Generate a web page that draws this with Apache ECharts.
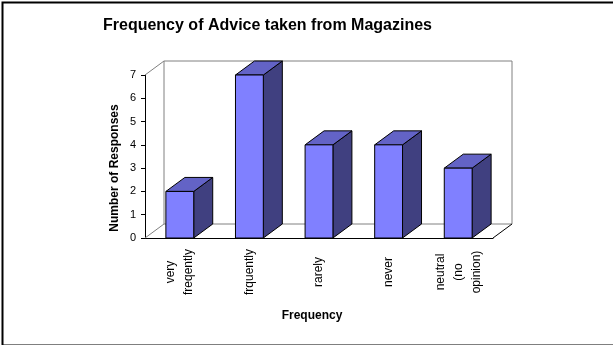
<!DOCTYPE html>
<html>
<head>
<meta charset="utf-8">
<script src="https://cdn.jsdelivr.net/npm/echarts@6/dist/echarts.min.js"></script>
<style>
  html, body { margin: 0; padding: 0; background: #fff; }
  #chart { width: 613px; height: 345px; }
</style>
</head>
<body>
<div id="chart"></div>
<script>
// Survey answers: how often advice from magazines is taken
const categories = ['very\nfreqently', 'frquently', 'rarely', 'never', 'neutral\n(no\nopinion)'];
const responses = [2, 7, 4, 4, 3];
const yMin = 0;
const yMax = 7;
const yStep = 1;

const FONT = 'Liberation Sans, Arial, sans-serif';
// pseudo-3D depth offset of the plot box (pixels)
const DX = 19;
const DY = -14;

const chart = echarts.init(document.getElementById('chart'), null, { renderer: 'canvas' });

// back wall and floor outline of the 3D box
function renderWalls(params, api) {
  const band = api.size([1, 0])[0];
  const x0 = api.coord([0, yMin])[0] - band / 2;
  const x1 = api.coord([categories.length - 1, yMin])[0] + band / 2;
  const yb = api.coord([0, yMin])[1];
  const yt = api.coord([0, yMax])[1];
  const gray = { stroke: '#808080', lineWidth: 1, fill: null };
  return {
    type: 'group',
    children: [
      { type: 'polyline', shape: { points: [[x0 + DX, yb + DY], [x0 + DX, yt + DY], [x1 + DX, yt + DY], [x1 + DX, yb + DY], [x0 + DX, yb + DY]] }, style: gray },
      { type: 'line', shape: { x1: x0, y1: yt, x2: x0 + DX, y2: yt + DY }, style: gray },
      { type: 'line', shape: { x1: x0, y1: yb, x2: x0 + DX, y2: yb + DY }, style: gray },
      { type: 'line', shape: { x1: x1, y1: yb, x2: x1 + DX, y2: yb + DY }, style: { stroke: '#000', lineWidth: 1 } }
    ]
  };
}

// one 3D column: front face, top face, right side
function renderBar(params, api) {
  const i = api.value(0);
  const v = api.value(1);
  const base = api.coord([i, yMin]);
  const top = api.coord([i, v]);
  const bw = api.size([1, 0])[0] * 0.4;
  const xl = base[0] - bw / 2;
  const xr = base[0] + bw / 2;
  const yb = base[1];
  const yt = top[1];
  const edge = { stroke: '#000', lineWidth: 1 };
  return {
    type: 'group',
    children: [
      { type: 'polygon', shape: { points: [[xr, yt], [xr + DX, yt + DY], [xr + DX, yb + DY], [xr, yb]] }, style: Object.assign({ fill: '#404080' }, edge) },
      { type: 'polygon', shape: { points: [[xl, yt], [xl + DX, yt + DY], [xr + DX, yt + DY], [xr, yt]] }, style: Object.assign({ fill: '#6363C6' }, edge) },
      { type: 'rect', shape: { x: xl, y: yt, width: bw, height: yb - yt }, style: Object.assign({ fill: '#8080FF' }, edge) }
    ]
  };
}

const option = {
  backgroundColor: '#fff',
  animation: false,
  title: {
    text: 'Frequency of Advice taken from Magazines',
    left: 103,
    top: 18,
    padding: 0,
    textStyle: { fontFamily: FONT, fontSize: 16, fontWeight: 'bold', color: '#000' }
  },
  grid: { left: 145, top: 75, width: 348, height: 163 },
  xAxis: {
    type: 'category',
    data: categories,
    boundaryGap: true,
    axisLine: { lineStyle: { color: '#000', width: 1 } },
    axisTick: { length: 4, lineStyle: { color: '#000' } },
    axisLabel: {
      interval: 0,
      rotate: 90,
      align: 'center',
      verticalAlign: 'middle',
      margin: 34,
      lineHeight: 18,
      color: '#000',
      fontFamily: FONT,
      fontSize: 12
    },
    splitLine: { show: false }
  },
  yAxis: {
    type: 'value',
    min: yMin,
    max: yMax,
    interval: yStep,
    axisLine: { show: true, lineStyle: { color: '#000', width: 1 } },
    axisTick: { show: true, length: 4, lineStyle: { color: '#000' } },
    axisLabel: { margin: 9, color: '#000', fontFamily: FONT, fontSize: 11 },
    splitLine: { show: false }
  },
  graphic: [
    {
      type: 'rect',
      left: 0, top: 0,
      shape: { x: 0, y: 0, width: 612, height: 343 },
      style: { fill: null, stroke: '#000', lineWidth: 2 },
      silent: true
    },
    {
      type: 'text',
      x: 115, y: 168,
      rotation: Math.PI / 2,
      style: { text: 'Number of Responses', fontFamily: FONT, fontSize: 12, fontWeight: 'bold', fill: '#000', align: 'center', verticalAlign: 'middle' }
    },
    {
      type: 'text',
      x: 312, y: 316,
      style: { text: 'Frequency', fontFamily: FONT, fontSize: 12, fontWeight: 'bold', fill: '#000', align: 'center', verticalAlign: 'middle' }
    }
  ],
  series: [
    {
      type: 'custom',
      name: 'box',
      z: 1,
      silent: true,
      renderItem: renderWalls,
      data: [[0, 0]],
      encode: { x: 0, y: 1 }
    },
    {
      type: 'custom',
      name: 'Responses',
      z: 2,
      renderItem: renderBar,
      data: responses.map((v, i) => [i, v]),
      encode: { x: 0, y: 1 }
    }
  ]
};

chart.setOption(option);
</script>
</body>
</html>
